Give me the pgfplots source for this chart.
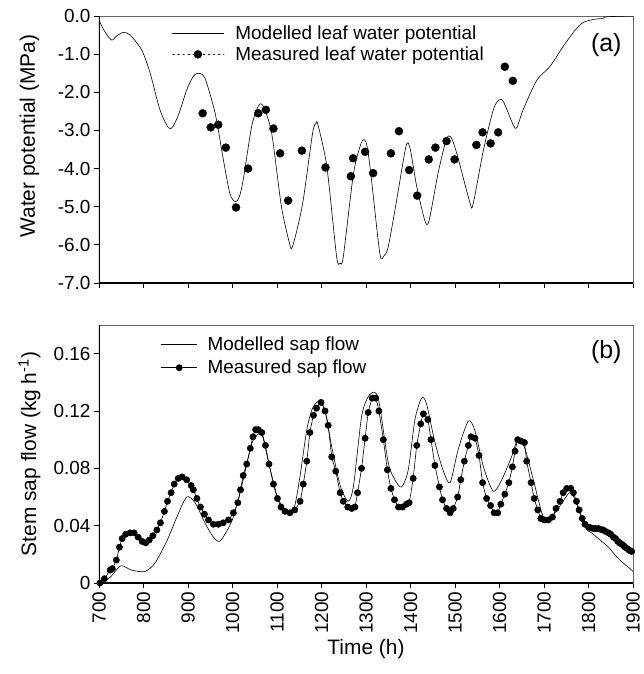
\documentclass[border=0pt]{standalone}
\usepackage{pgfplots}
\pgfplotsset{compat=1.18}
\usepackage{fontspec}
\setmainfont{Liberation Sans}
\begin{document}
\begin{tikzpicture}
\pgfplotsset{
 common/.style={
  scale only axis, width=534bp,
  xmin=700, xmax=1900,
  xtick={700,800,...,1900},
  tick align=outside, xtick pos=bottom, ytick pos=left,
  major tick length=5bp,
  every tick/.style={black, line width=0.9pt},
  axis line style={draw=black!60, line width=0.8pt},
  /pgf/number format/assume math mode=true,
  /pgf/number format/1000 sep={},
  tick label style={font=\fontsize{19}{22}\selectfont},
  label style={font=\fontsize{21}{24}\selectfont},
  legend cell align=left,
 },
}
% ---------------- top panel ----------------
\begin{axis}[common, name=top, at={(0,0)}, anchor=north west, height=267bp,
  ymin=-7, ymax=0, ytick={-7,-6,...,0},
  yticklabel style={/pgf/number format/.cd, fixed, fixed zerofill, precision=1},
  xticklabels={},
  ylabel={Water potential (MPa)},
  ylabel style={at={(axis description cs:-0.13,0.55)}, anchor=center},
  legend style={at={(axis description cs:0.13,0.98)}, anchor=north west, draw=none, fill=none,
    font=\fontsize{19}{22}\selectfont, row sep=2bp,
    /tikz/every odd column/.append style={column sep=9bp}},
]
\addplot[black, line width=0.6pt, smooth, tension=0.45,
  legend image code/.code={\draw[black, line width=0.6pt] (0bp,0bp) -- (52bp,0bp);}] coordinates {
(700,-0.10) (710,-0.35) (728,-0.63) (740,-0.52) (755,-0.43) (770,-0.50) (796,-0.89)
(815,-1.50) (837,-2.46) (856,-2.93) (866,-2.90) (880,-2.55) (897,-1.94) (912,-1.58)
(923,-1.50) (938,-1.63) (961,-2.55) (980,-3.80) (994,-4.65) (1006,-4.87) (1015,-4.75)
(1024,-4.30) (1043,-2.90) (1058,-2.36) (1069,-2.36) (1088,-3.07) (1110,-5.00) (1129,-6.00)
(1134,-6.07) (1145,-5.60) (1159,-4.82) (1180,-3.07) (1188,-2.81) (1192,-2.85) (1212,-3.95)
(1234,-6.31) (1242,-6.48) (1249,-6.31) (1272,-4.12) (1290,-3.31) (1300,-3.31) (1309,-3.95)
(1331,-6.22) (1340,-6.29) (1350,-6.05) (1369,-4.82) (1390,-3.41) (1399,-3.47) (1414,-4.47)
(1433,-5.39) (1442,-5.35) (1462,-4.12) (1480,-3.25) (1490,-3.16) (1504,-3.60) (1534,-4.91)
(1541,-4.91) (1564,-3.51) (1586,-2.46) (1599,-2.20) (1609,-2.25) (1631,-2.86) (1639,-2.93)
(1653,-2.46) (1684,-1.68) (1713,-1.33) (1743,-0.80) (1770,-0.37) (1788,-0.17) (1811,-0.09)
(1833,-0.06) (1841,-0.02) (1900,0.00)
};
\addlegendentry{Modelled leaf water potential}
\addlegendimage{legend image code/.code={\draw[black, line width=1.1pt, dash pattern=on 1.1pt off 4pt, line cap=round] (1bp,0bp) -- (52bp,0bp); \fill[black] (26bp,0bp) circle (4bp);}}
\addlegendentry{Measured leaf water potential}
\addplot[only marks, mark=*, mark size=4bp, black, forget plot] coordinates {
(933,-2.55) (951,-2.92) (968,-2.85) (985,-3.45) (1008,-5.02) (1035,-4.00) (1058,-2.55)
(1075,-2.46) (1092,-2.95) (1107,-3.60) (1125,-4.84) (1156,-3.53) (1209,-3.97) (1266,-4.20)
(1271,-3.73) (1298,-3.56) (1316,-4.12) (1356,-3.60) (1374,-3.02) (1397,-4.04) (1415,-4.71)
(1441,-3.76) (1456,-3.45) (1481,-3.28) (1499,-3.76) (1548,-3.38) (1562,-3.05) (1580,-3.34)
(1597,-3.05) (1612,-1.33) (1630,-1.70)
};
\draw[black, line width=1.6pt] (rel axis cs:0,1) -- (rel axis cs:0,0) -- (rel axis cs:1,0);
\node[font=\fontsize{25}{29}\selectfont] at (axis description cs:0.95,0.89) {(a)};
\end{axis}
% ---------------- bottom panel ----------------
\begin{axis}[common, name=bot, at={(0,-309bp)}, anchor=north west, height=258bp,
  ymin=0, ymax=0.18, ytick={0,0.04,0.08,0.12,0.16},
  yticklabels={0,0.04,0.08,0.12,0.16},
  xticklabel style={rotate=90, anchor=east},
  xlabel={Time (h)},
  xlabel style={at={(axis description cs:0.5,0)}, anchor=center, yshift=-66bp},
  ylabel={Stem sap flow (kg h\textsuperscript{-1})},
  ylabel style={at={(axis description cs:-0.13,0.5)}, anchor=center},
  legend style={at={(axis description cs:0.11,0.97)}, anchor=north west, draw=none, fill=none,
    font=\fontsize{19}{22}\selectfont, row sep=4bp,
    /tikz/every odd column/.append style={column sep=8bp}},
]
\addplot[black, line width=0.6pt, smooth, tension=0.45,
  legend image code/.code={\draw[black, line width=0.6pt] (0bp,0bp) -- (36bp,0bp);}] coordinates {
(700,0.000) (725,0.004) (749,0.012) (773,0.009) (803,0.008) (826,0.014) (852,0.029)
(875,0.046) (897,0.060) (916,0.056) (938,0.042) (957,0.032) (970,0.029) (983,0.034)
(1002,0.046) (1024,0.072) (1043,0.097) (1058,0.104) (1067,0.103) (1082,0.083) (1101,0.060)
(1118,0.051) (1129,0.050) (1140,0.054) (1152,0.075) (1167,0.107) (1180,0.122) (1195,0.127)
(1208,0.120) (1223,0.095) (1242,0.068) (1260,0.057) (1272,0.068) (1290,0.116) (1305,0.130)
(1320,0.133) (1330,0.125) (1350,0.084) (1365,0.072) (1380,0.067) (1395,0.079) (1410,0.114)
(1425,0.129) (1436,0.125) (1455,0.098) (1474,0.078) (1489,0.070) (1507,0.093) (1530,0.113)
(1545,0.106) (1564,0.081) (1586,0.064) (1605,0.072) (1627,0.088) (1642,0.101) (1657,0.094)
(1676,0.072) (1695,0.049) (1706,0.044) (1725,0.049) (1747,0.059) (1758,0.063) (1770,0.058)
(1792,0.039) (1807,0.035) (1826,0.030) (1845,0.025) (1867,0.017) (1897,0.009) (1900,0.008)
};
\addlegendentry{Modelled sap flow}
\addplot[black, line width=0.6pt, mark=*, mark size=3.1bp, smooth, tension=0.3,
  legend image code/.code={\draw[black, line width=0.6pt] (0bp,0bp) -- (36bp,0bp); \fill[black] (18bp,0bp) circle (3.1bp);}] coordinates {
(702,0.000) (712,0.003) (725,0.009) (730,0.010) (739,0.016) (746,0.025) (752,0.031)
(760,0.034) (770,0.035) (779,0.035) (788,0.032) (797,0.029) (805,0.028) (813,0.030)
(821,0.033) (830,0.037) (838,0.042) (847,0.050) (854,0.057) (862,0.063) (869,0.069)
(878,0.073) (887,0.074) (897,0.072) (907,0.068) (912,0.065) (920,0.059) (928,0.053)
(937,0.048) (946,0.044) (957,0.041) (968,0.041) (979,0.042) (991,0.044) (1002,0.049)
(1012,0.056) (1018,0.065) (1024,0.075) (1032,0.083) (1040,0.094) (1046,0.102) (1052,0.107)
(1058,0.107) (1066,0.105) (1074,0.096) (1082,0.083) (1092,0.069) (1101,0.059) (1109,0.053)
(1118,0.050) (1129,0.049) (1140,0.051) (1152,0.057) (1159,0.069) (1167,0.085) (1174,0.105)
(1182,0.117) (1189,0.122) (1199,0.126) (1208,0.120) (1215,0.110) (1223,0.088) (1232,0.078)
(1242,0.063) (1249,0.057) (1259,0.053) (1268,0.052) (1275,0.053) (1281,0.063) (1290,0.080)
(1298,0.101) (1305,0.119) (1314,0.129) (1322,0.129) (1329,0.120) (1339,0.100) (1348,0.079)
(1356,0.066) (1364,0.058) (1373,0.053) (1382,0.053) (1391,0.055) (1397,0.056) (1406,0.073)
(1414,0.096) (1423,0.111) (1429,0.118) (1439,0.114) (1446,0.100) (1455,0.082) (1465,0.067)
(1472,0.058) (1481,0.052) (1489,0.049) (1496,0.052) (1506,0.060) (1513,0.072) (1521,0.085)
(1530,0.096) (1536,0.102) (1545,0.101) (1554,0.089) (1562,0.070) (1571,0.059) (1580,0.054)
(1588,0.049) (1596,0.049) (1603,0.055) (1612,0.062) (1621,0.070) (1629,0.081) (1635,0.092)
(1641,0.100) (1648,0.099) (1656,0.098) (1661,0.085) (1671,0.070) (1678,0.059) (1686,0.051)
(1693,0.045) (1701,0.044) (1710,0.044) (1719,0.046) (1727,0.052) (1736,0.057) (1743,0.063)
(1751,0.066) (1760,0.066) (1766,0.063) (1773,0.057) (1779,0.051) (1786,0.045) (1792,0.041)
(1801,0.039) (1805,0.0385) (1811,0.038) (1816,0.038) (1822,0.038) (1827,0.0375) (1833,0.037)
(1838,0.036) (1845,0.035) (1850,0.034) (1856,0.032) (1861,0.031) (1866,0.029) (1870,0.028)
(1875,0.027) (1879,0.026) (1882,0.025) (1887,0.024) (1891,0.023) (1894,0.0225) (1897,0.022)
};
\addlegendentry{Measured sap flow}
\draw[black, line width=1.6pt] (rel axis cs:0,1) -- (rel axis cs:0,0) -- (rel axis cs:1,0);
\node[font=\fontsize{25}{29}\selectfont] at (axis description cs:0.95,0.895) {(b)};
\end{axis}
\pgfresetboundingbox
\path[use as bounding box] (-99bp,16bp) rectangle (545bp,-658bp);
\end{tikzpicture}
\end{document}
